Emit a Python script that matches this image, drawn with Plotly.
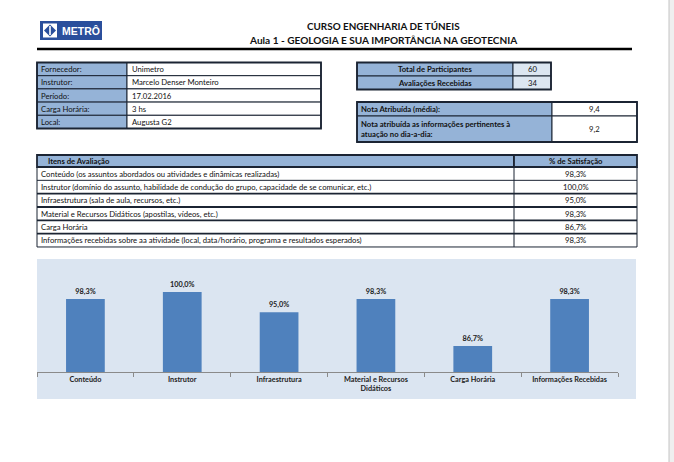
import plotly.graph_objects as go

W, H = 674, 462

# ---- data ----
info_labels = ["Fornecedor:", "Instrutor:", "Período:", "Carga Horária:", "Local:"]
info_values = ["Unimetro", "Marcelo Denser Monteiro", "17.02.2016", "3 hs", "Augusta G2"]

part_labels = ["Total de Participantes", "Avaliações Recebidas"]
part_values = [60, 34]

nota_labels = ["Nota Atribuída (média):",
               "Nota atribuída as informações pertinentes à<br>atuação no dia-a-dia:"]
nota_values = [9.4, 9.2]

itens = [
    "Conteúdo (os assuntos abordados ou atividades e dinâmicas realizadas)",
    "Instrutor (domínio do assunto, habilidade de condução do grupo, capacidade de se comunicar, etc.)",
    "Infraestrutura (sala de aula, recursos, etc.)",
    "Material e Recursos Didáticos (apostilas, vídeos, etc.)",
    "Carga Horária",
    "Informações recebidas sobre aa atividade (local, data/horário, programa e resultados esperados)",
]
categorias = ["Conteúdo", "Instrutor", "Infraestrutura", "Material e Recursos<br>Didáticos",
              "Carga Horária", "Informações Recebidas"]
satisfacao = [98.3, 100.0, 95.0, 98.3, 86.7, 98.3]

FONT = "Lato, DejaVu Sans Condensed, sans-serif"
DARK = "#1b2433"
BLUE_FILL = "#95b3d7"
LIGHT_FILL = "#dce6f1"
BAR = "#4f81bd"

def X(px):
    return px / W

def Y(py):
    return 1 - py / H

shapes = []
annots = []

def rect(x0, y0, x1, y1, fill="rgba(0,0,0,0)", lc=DARK, lw=1, layer="above"):
    shapes.append(dict(type="rect", xref="paper", yref="paper",
                       x0=X(x0), x1=X(x1), y0=Y(y1), y1=Y(y0),
                       fillcolor=fill, line=dict(color=lc, width=lw), layer=layer))

def line(x0, y0, x1, y1, lc=DARK, lw=1):
    shapes.append(dict(type="line", xref="paper", yref="paper",
                       x0=X(x0), x1=X(x1), y0=Y(y0), y1=Y(y1),
                       line=dict(color=lc, width=lw)))

def text(x, y, s, size=7.7, align="left", bold=False, color="#111", fam=FONT):
    if bold:
        s = "<b>" + s + "</b>"
    annots.append(dict(xref="paper", yref="paper", x=X(x), y=Y(y), text=s,
                       showarrow=False, xanchor=align, yanchor="middle", align=align,
                       font=dict(size=size, color=color, family=fam)))

def fmt(v, dec=1):
    return f"{v:.{dec}f}".replace(".", ",")

# ---- header ----
rect(40, 21, 102, 40, fill="#2a4f9c", lc="#2a4f9c", lw=0)
rect(43, 23.5, 57, 37.5, fill="white", lc="white", lw=0)
shapes.append(dict(type="path", xref="paper", yref="paper",
                   path=f"M {X(50)},{Y(24.5)} L {X(56)},{Y(30.5)} L {X(50)},{Y(36.5)} L {X(44)},{Y(30.5)} Z",
                   fillcolor="#2a4f9c", line=dict(width=0)))
rect(49.2, 26, 50.8, 35, fill="white", lc="white", lw=0)
text(80.5, 31, "METRÔ", size=10.5, align="center", bold=True, color="white",
     fam="Liberation Sans, Arial, sans-serif")
text(383, 26, "CURSO ENGENHARIA DE TÚNEIS", size=9.9, align="center", bold=True)
text(383, 40, "Aula 1 - GEOLOGIA E SUA IMPORTÂNCIA NA GEOTECNIA", size=10.1, align="center", bold=True)
line(37, 49, 632, 49, lc="black", lw=2.5)

# ---- info table ----
top, rh = 62.5, 13.2
for i, (lab, val) in enumerate(zip(info_labels, info_values)):
    y0 = top + i * rh
    rect(37, y0, 127, y0 + rh, fill=BLUE_FILL, lw=1)
    rect(127, y0, 321, y0 + rh, fill="white", lw=1)
    text(39, y0 + rh / 2, lab)
    text(130, y0 + rh / 2, val)
rect(37, top, 321, top + rh * len(info_labels), lw=1.8)

# ---- participants ----
top, rh = 62.5, 13.5
for i, (lab, val) in enumerate(zip(part_labels, part_values)):
    y0 = top + i * rh
    rect(357, y0, 513, y0 + rh, fill=BLUE_FILL, lw=1)
    rect(513, y0, 551, y0 + rh, fill=LIGHT_FILL, lw=1)
    text(435, y0 + rh / 2, lab, align="center", bold=True)
    text(532, y0 + rh / 2, str(val), align="center")
rect(357, top, 551, top + rh * 2, lw=1.8)

# ---- notas ----
nota_rows = [(102, 116), (116, 142)]
for (y0, y1), lab, val in zip(nota_rows, nota_labels, nota_values):
    rect(357, y0, 552, y1, fill=BLUE_FILL, lw=1)
    rect(552, y0, 637, y1, fill="white", lw=1)
    text(359, (y0 + y1) / 2, lab, bold=True)
    text(594.5, (y0 + y1) / 2, fmt(val), align="center")
rect(357, 102, 637, 142, lw=1.8)

# ---- itens de avaliacao ----
rect(37, 155, 514, 167, fill=BLUE_FILL, lw=1.8)
rect(514, 155, 637, 167, fill=BLUE_FILL, lw=1.8)
text(46, 161, "Itens de Avaliação", bold=True)
text(575.5, 161, "% de Satisfação", align="center", bold=True)
rh = 13.33
for i, (it, v) in enumerate(zip(itens, satisfacao)):
    y0 = 167 + i * rh
    text(39, y0 + rh / 2, it)
    text(575.5, y0 + rh / 2, fmt(v) + "%", align="center")
    line(37, y0 + rh, 637, y0 + rh, lw=1.8 if 0 < i < 5 else 1)
line(514, 167, 514, 167 + rh * len(itens), lw=1)
line(37, 167, 37, 167 + rh * len(itens), lw=1)
line(637, 167, 637, 167 + rh * len(itens), lw=1)

# ---- chart background ----
rect(37, 259, 636, 399, fill="#dbe5f1", lc="#dbe5f1", lw=0, layer="below")

# right edge strip
rect(669, 0, 674, 462, fill="#efefef", lc="#efefef", lw=0)
line(669, 0, 669, 462, lc="#c4c4c4", lw=1)

fig = go.Figure(go.Bar(
    x=categorias, y=satisfacao, width=0.4,
    marker=dict(color=BAR, line=dict(width=0)),
    texttemplate="<b>%{y:.1f}%</b>", textposition="outside", cliponaxis=False,
    textfont=dict(size=7.3, color="#222", family=FONT),
))

fig.update_layout(
    width=W, height=H,
    margin=dict(l=0, r=0, t=0, b=0),
    paper_bgcolor="white", plot_bgcolor="rgba(0,0,0,0)",
    separators=",.",
    showlegend=False,
    shapes=shapes, annotations=annots,
    xaxis=dict(domain=[X(37), X(618)], showline=True, linecolor="#8a8a8a", linewidth=1,
               ticks="outside", tickson="boundaries", ticklen=4, tickcolor="#8a8a8a",
               tickvals=categorias, ticktext=["<b>" + c + "</b>" for c in categorias],
               tickangle=0, tickfont=dict(size=7.3, color="#222", family=FONT),
               showgrid=False, fixedrange=True),
    yaxis=dict(domain=[Y(372), Y(275)], range=[80.3, 104.2], visible=False, fixedrange=True),
)

fig.write_html("out.html", config={"displayModeBar": False},
               post_script="document.body.style.margin='0';document.body.style.overflow='hidden';")
